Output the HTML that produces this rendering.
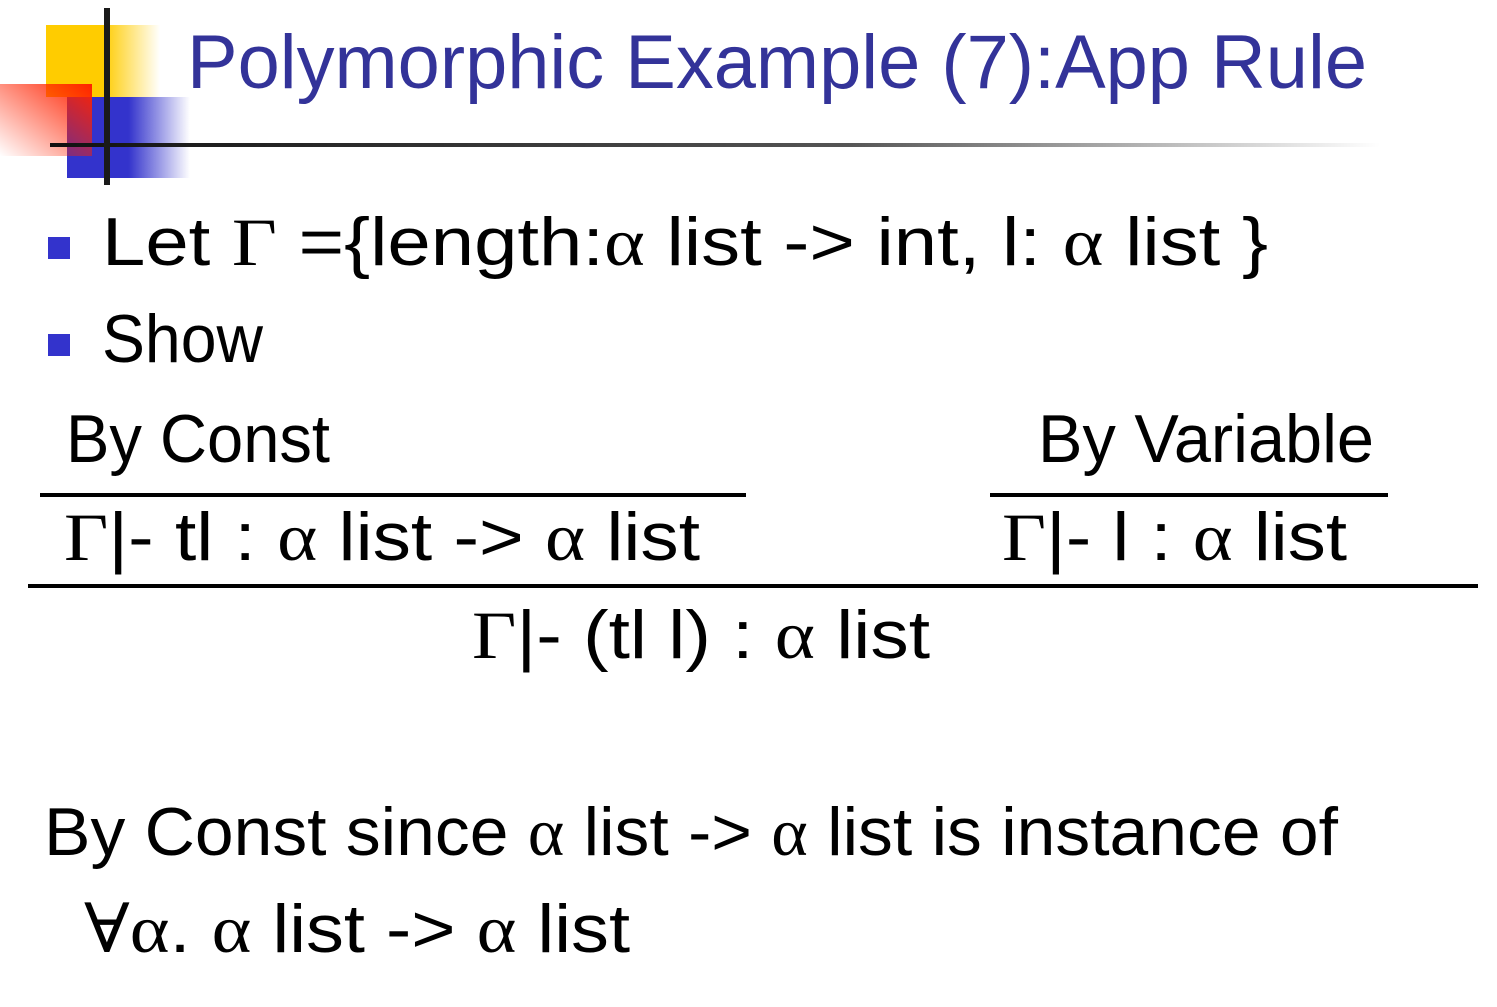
<!DOCTYPE html>
<html><head><meta charset="utf-8"><style>
html,body{margin:0;padding:0;background:#fff;}
svg{display:block}
text{font-family:"Liberation Sans","DejaVu Sans",sans-serif;font-size:68px;fill:#000}
.s{font-family:"Liberation Serif","DejaVu Serif",serif}
</style></head><body>
<svg width="1497" height="1007" viewBox="0 0 1497 1007" xmlns="http://www.w3.org/2000/svg">
<defs>
<linearGradient id="gy" x1="0" x2="1"><stop offset="0" stop-color="#ffcc00"/><stop offset="0.5" stop-color="#ffcc00"/><stop offset="1" stop-color="#ffcc00" stop-opacity="0"/></linearGradient>
<linearGradient id="gb" x1="0" x2="1"><stop offset="0" stop-color="#3333cc"/><stop offset="0.5" stop-color="#3333cc"/><stop offset="1" stop-color="#3333cc" stop-opacity="0"/></linearGradient>
<linearGradient id="gr" x1="1" y1="0" x2="0" y2="1"><stop offset="0" stop-color="#ff2200"/><stop offset="0.5" stop-color="#ff2200" stop-opacity="0.5"/><stop offset="1" stop-color="#ff2200" stop-opacity="0"/></linearGradient>
<linearGradient id="gl" x1="0" x2="1"><stop offset="0" stop-color="#111"/><stop offset="0.6" stop-color="#555"/><stop offset="1" stop-color="#fff"/></linearGradient>
</defs>
<rect x="46" y="25" width="114" height="72" fill="url(#gy)"/>
<rect x="67" y="97" width="123" height="81" fill="url(#gb)"/>
<rect x="0" y="84" width="92" height="72" fill="url(#gr)"/>
<rect x="50" y="143" width="1330" height="4" fill="url(#gl)"/>
<rect x="104" y="8" width="6" height="177" fill="#1a1a1a"/>
<text x="187" y="88" textLength="1180" lengthAdjust="spacingAndGlyphs" style="fill:#333399;font-size:76px">Polymorphic Example (7):App Rule</text>
<rect x="48" y="237" width="22" height="22" fill="#3333cc"/>
<rect x="48" y="334" width="22" height="22" fill="#3333cc"/>
<text x="102" y="265" textLength="1166" lengthAdjust="spacingAndGlyphs">Let  <tspan class="s">Γ</tspan> ={length:<tspan class="s">α</tspan> list -&gt; int,  l: <tspan class="s">α</tspan> list }</text>
<text x="102" y="362" textLength="161" lengthAdjust="spacingAndGlyphs">Show</text>
<text x="66" y="462" textLength="264" lengthAdjust="spacingAndGlyphs">By Const</text>
<text x="1038" y="462" textLength="336" lengthAdjust="spacingAndGlyphs">By Variable</text>
<rect x="40" y="493" width="706" height="4" fill="#000"/>
<rect x="990" y="493" width="398" height="4" fill="#000"/>
<text x="64" y="560" textLength="636" lengthAdjust="spacingAndGlyphs"><tspan class="s">Γ</tspan>|- tl : <tspan class="s">α</tspan> list -&gt; <tspan class="s">α</tspan> list</text>
<text x="1002" y="560" textLength="345" lengthAdjust="spacingAndGlyphs"><tspan class="s">Γ</tspan>|- l : <tspan class="s">α</tspan> list</text>
<rect x="28" y="584" width="1450" height="4" fill="#000"/>
<text x="472" y="658" textLength="458" lengthAdjust="spacingAndGlyphs"><tspan class="s">Γ</tspan>|- (tl l) : <tspan class="s">α</tspan> list</text>
<text x="44" y="855" textLength="1294" lengthAdjust="spacingAndGlyphs">By Const since <tspan class="s">α</tspan> list -&gt; <tspan class="s">α</tspan> list is instance of</text>
<text x="84" y="952" textLength="546" lengthAdjust="spacingAndGlyphs"><tspan class="s">∀α</tspan>. <tspan class="s">α</tspan> list -&gt; <tspan class="s">α</tspan> list</text>
</svg>
</body></html>
